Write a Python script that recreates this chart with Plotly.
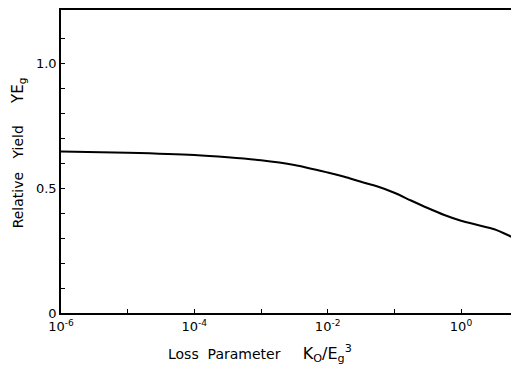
import plotly.graph_objects as go

# Loss parameter K0/Eg^3 (log10 of values) and relative yield
loss_log10 = [-6, -5, -4, -3.5, -3, -2.5, -2, -1.75, -1.5, -1.25, -1, -0.75, -0.5,
              -0.25, 0, 0.25, 0.5, 0.7, 0.87]
relative_yield = [0.646, 0.641, 0.632, 0.623, 0.611, 0.592, 0.562, 0.545, 0.525,
                  0.506, 0.481, 0.450, 0.420, 0.392, 0.369, 0.352, 0.335, 0.312, 0.289]
loss_param = [10 ** v for v in loss_log10]

x_tick_vals = [1e-6, 1e-5, 1e-4, 1e-3, 1e-2, 1e-1, 1e0]
x_tick_text = ["10<sup>-6</sup>", "", "10<sup>-4</sup>", "", "10<sup>-2</sup>", "", "10<sup>0</sup>"]
y_tick_vals = [0, 0.1, 0.2, 0.3, 0.4, 0.5, 0.6, 0.7, 0.8, 0.9, 1.0, 1.1]
y_tick_text = ["0", "", "", "", "", "0.5", "", "", "", "", "1.0", ""]

x_title = ("Loss  Parameter     <span style='font-size:16px'>"
           "K<sub>O</sub>/E<sub>g</sub><sup>3</sup></span>")
y_title = "Relative   Yield     <span style='font-size:15px'>YE<sub>g</sub></span>"

font_family = "DejaVu Sans, Liberation Sans, sans-serif"

fig = go.Figure()
fig.add_trace(go.Scatter(
    x=loss_param, y=relative_yield, mode="lines",
    line=dict(color="black", width=2, shape="spline", smoothing=0.8),
    showlegend=False, hoverinfo="skip",
))

# the page body adds an 8 px offset, so the figure is sized to compensate
fig.update_layout(
    width=511, height=357,
    margin=dict(l=53, r=0, t=2, b=52),
    paper_bgcolor="white", plot_bgcolor="white",
    font=dict(family=font_family, size=13, color="black"),
    xaxis=dict(
        type="log", range=[-6, 0.87],
        showgrid=False, zeroline=False,
        showline=True, linecolor="black", linewidth=1.6, mirror=True,
        ticks="inside", ticklen=4, tickwidth=1, tickcolor="black",
        tickvals=x_tick_vals, ticktext=x_tick_text,
        tickfont=dict(size=13), ticklabelstandoff=1,
    ),
    yaxis=dict(
        range=[0, 1.212],
        showgrid=False, zeroline=False,
        showline=True, linecolor="black", linewidth=1.6, mirror=False,
        ticks="inside", ticklen=4, tickwidth=1, tickcolor="black",
        tickvals=y_tick_vals, ticktext=y_tick_text,
        tickfont=dict(size=13),
    ),
    annotations=[
        dict(text=x_title, xref="paper", yref="paper", x=0.4345, y=-0.135,
             xanchor="center", yanchor="middle", showarrow=False,
             font=dict(size=14)),
        dict(text=y_title, xref="paper", yref="paper", x=-0.094, y=0.53,
             xanchor="center", yanchor="middle", showarrow=False, textangle=-90,
             font=dict(size=14)),
    ],
)

fig.write_html("out.html")
